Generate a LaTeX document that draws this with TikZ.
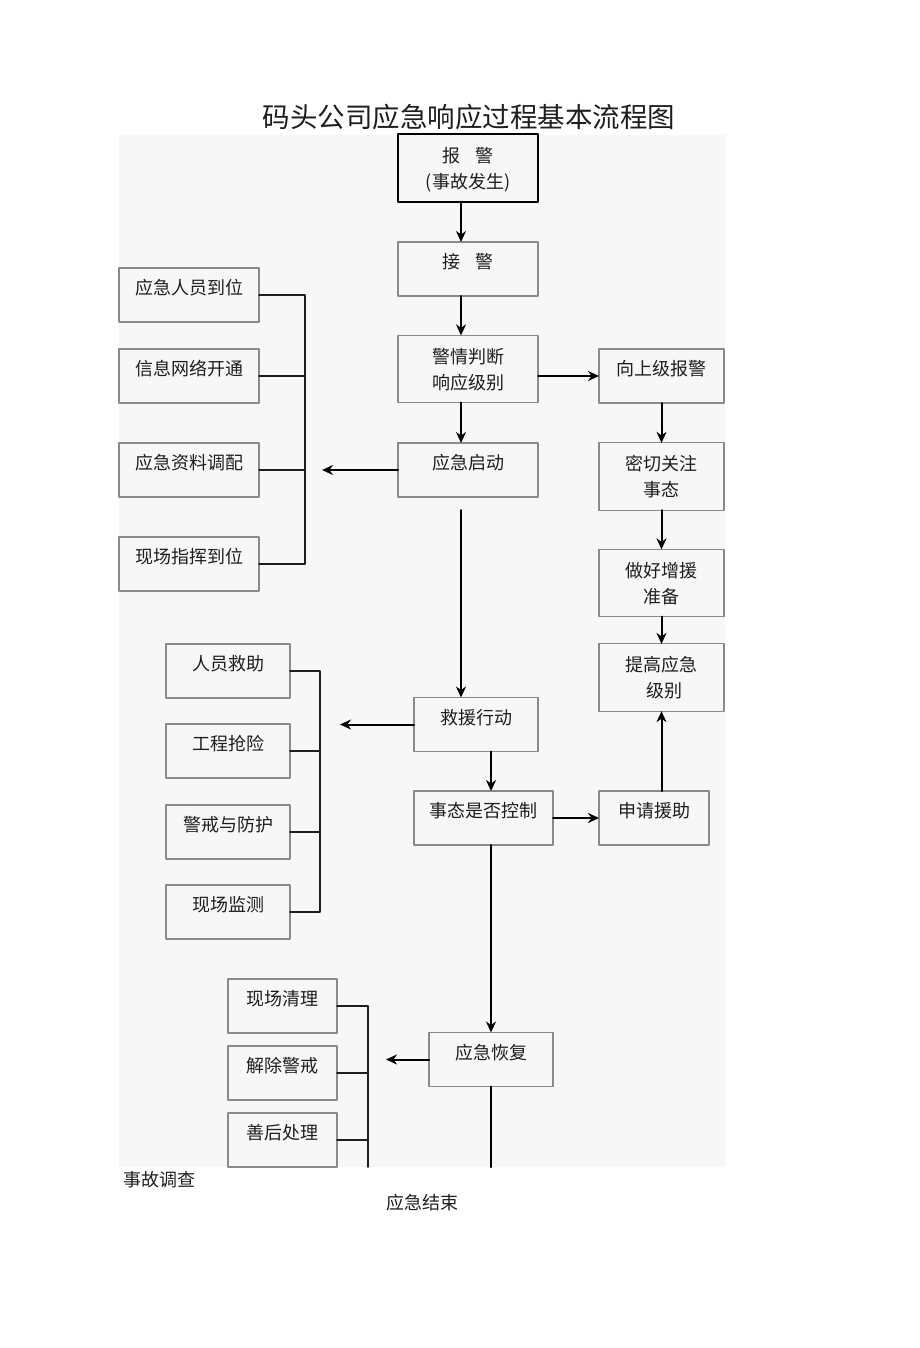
\documentclass[tikz,border=0pt]{standalone}
\usepackage{fontspec}
\setmainfont{Noto Sans CJK SC}
\usetikzlibrary{arrows.meta}
\definecolor{panel}{HTML}{F7F7F7}
\definecolor{boxgray}{HTML}{8A8A8A}
\definecolor{ink}{HTML}{1E1E1E}
\newcommand{\lns}[2]{\begin{tabular}[t]{@{}c@{}}#1\\#2\end{tabular}}
\begin{document}
\begin{tikzpicture}[x=1pt,y=-1pt,line cap=round,line join=round,
  box/.style={rectangle,draw=boxgray,line width=1.2pt,inner sep=0pt,outer sep=0pt,text=ink,font=\fontsize{18}{26}\selectfont},
  one/.style={box,text height=26.8pt,text depth=27.2pt},
  two/.style={box,text height=27.8pt,text depth=39.5pt},
  arr/.style={-{Stealth[length=11pt,width=10pt]},line width=2pt},
  brk/.style={line width=1.6pt,draw=ink}]
\useasboundingbox (0,0) rectangle (920,1348);
\fill[panel] (119,135) rectangle (725,1167);
\node[text=ink,font=\fontsize{27.5}{30}\selectfont] (title) at (469,117) {码头公司应急响应过程基本流程图};
\node[two,minimum width=140pt,draw=black,line width=2.2pt] (bj) at (468,168) {\lns{报\hspace{15pt}警}{(事故发生)}};
\node[one,minimum width=140pt] (jj) at (468,269) {接\hspace{16pt}警};
\node[two,minimum width=140pt] (pd) at (468,369) {\lns{警情判断}{响应级别}};
\node[one,minimum width=140pt] (qd) at (468,470) {应急启动};
\node[one,minimum width=125pt] (sj) at (661.5,376) {向上级报警};
\node[two,minimum width=125pt] (mq) at (661.5,476.5) {\lns{密切关注}{事态}};
\node[two,minimum width=125pt] (zy) at (661.5,583) {\lns{做好增援}{准备}};
\node[two,minimum width=125pt] (tg) at (661.5,677.5) {\lns{提高应急}{\hspace{5pt}级别}};
\node[one,minimum width=124pt] (jy) at (476,724.5) {救援行动};
\node[one,minimum width=139pt] (kz) at (483.5,818) {事态是否控制};
\node[one,minimum width=110pt] (sq) at (654,818) {申请援助};
\node[one,minimum width=124pt] (hf) at (491,1059.5) {应急恢复};
\node[one,minimum width=140pt] (l1) at (189,295) {应急人员到位};
\node[one,minimum width=140pt] (l2) at (189,376) {信息网络开通};
\node[one,minimum width=140pt] (l3) at (189,470) {应急资料调配};
\node[one,minimum width=140pt] (l4) at (189,564) {现场指挥到位};
\node[one,minimum width=124pt] (m1) at (228,671) {人员救助};
\node[one,minimum width=124pt] (m2) at (228,751) {工程抢险};
\node[one,minimum width=124pt] (m3) at (228,832) {警戒与防护};
\node[one,minimum width=124pt] (m4) at (228,912) {现场监测};
\node[one,minimum width=109pt] (n1) at (282.5,1006) {现场清理};
\node[one,minimum width=109pt] (n2) at (282.5,1073) {解除警戒};
\node[one,minimum width=109pt] (n3) at (282.5,1140) {善后处理};
\node[anchor=west,text=ink,font=\fontsize{18}{20}\selectfont] (dc) at (120,1180) {事故调查};
\node[text=ink,font=\fontsize{18}{20}\selectfont] (js) at (422,1203) {应急结束};
\coordinate (c1) at (461,510);
\coordinate (c0) at (0,1167);
\coordinate (t1) at (322,470);
\coordinate (t2) at (340,724.5);
\coordinate (t3) at (386,1059.5);
\draw[arr] (bj.south -| c1) -- (jj.north -| c1);
\draw[arr] (jj.south -| c1) -- (pd.north -| c1);
\draw[arr] (pd.south -| c1) -- (qd.north -| c1);
\draw[arr] (pd.east |- sj) -- (sj.west);
\draw[arr] (sj.south) -- (mq.north);
\draw[arr] (mq.south) -- (zy.north);
\draw[arr] (zy.south) -- (tg.north);
\draw[arr] (qd.west) -- (t1);
\draw[arr] (c1) -- (jy.north -| c1);
\draw[arr] (jy.west) -- (t2);
\draw[arr] (jy.south -| hf) -- (kz.north -| hf);
\draw[arr] (kz.east) -- (sq.west);
\draw[arr] (sq.north -| tg) -- (tg.south);
\draw[arr] (kz.south -| hf) -- (hf.north);
\draw[arr] (hf.west) -- (t3);
\draw[line width=2pt] (hf.south) -- (hf.south |- c0);
\draw[brk] (l1.east) -- ++(46,0) |- (l4.east);
\draw[brk] (l2.east) -- ++(46,0);
\draw[brk] (l3.east) -- ++(46,0);
\draw[brk] (m1.east) -- ++(30,0) |- (m4.east);
\draw[brk] (m2.east) -- ++(30,0);
\draw[brk] (m3.east) -- ++(30,0);
\draw[brk] (n1.east) -- ++(31,0) -- ++(0,161);
\draw[brk] (n2.east) -- ++(31,0);
\draw[brk] (n3.east) -- ++(31,0);
\end{tikzpicture}
\end{document}
